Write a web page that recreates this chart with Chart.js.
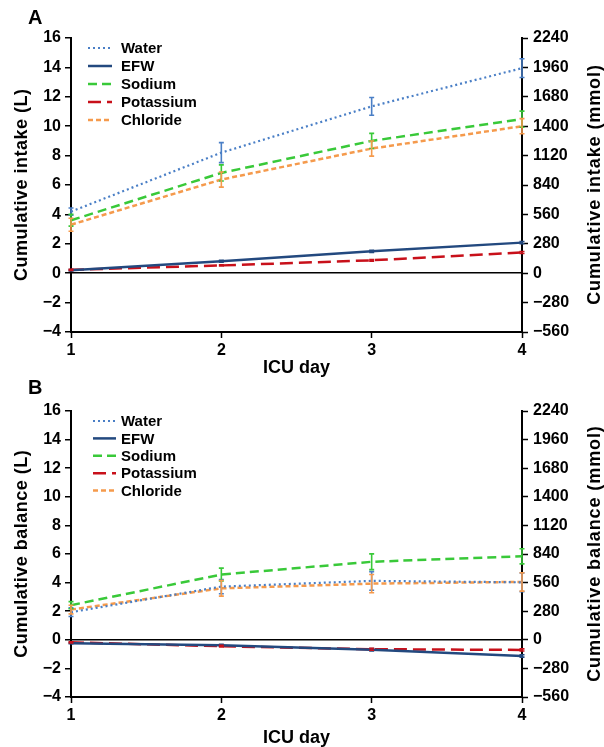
<!DOCTYPE html>
<html>
<head>
<meta charset="utf-8">
<script src="https://cdn.jsdelivr.net/npm/chart.js@4.4.1/dist/chart.umd.min.js"></script>
<style>
  html, body { margin: 0; padding: 0; background: #fff; overflow: hidden; }
  #wrap { position: relative; width: 604px; height: 747px; }
  canvas { position: absolute; left: 0; }
  #chartA { top: 0; }
  #chartB { top: 372px; }
  .tag { position: absolute; left: 28px; font: bold 20px "Liberation Sans", Arial, sans-serif; }
</style>
</head>
<body>
<div id="wrap">
  <canvas id="chartA" width="604" height="380"></canvas>
  <canvas id="chartB" width="604" height="378"></canvas>
  <div class="tag" style="top:6px">A</div>
  <div class="tag" style="top:376px">B</div>
</div>
<script>
const days = ["1", "2", "3", "4"];
const seriesNames = ["Water", "EFW", "Sodium", "Potassium", "Chloride"];

// panel A - cumulative intake (water, EFW in L; electrolytes in mmol)
const intakeWater = [4.19, 8.2, 11.35, 13.95];
const intakeWaterErr = [0.25, 0.68, 0.6, 0.64];
const intakeEfw = [0.2, 0.81, 1.49, 2.08];
const intakeEfwErr = [0.04, 0.06, 0.07, 0.08];
const intakeSodium = [504, 955, 1260, 1467];
const intakeSodiumErr = [56, 77, 72, 77];
const intakePotassium = [32, 74, 123, 197];
const intakePotassiumErr = [5, 6, 8, 10];
const intakeChloride = [462, 892, 1187, 1400];
const intakeChlorideErr = [62, 72, 72, 72];

// panel B - cumulative balance
const balWater = [1.93, 3.72, 4.12, 4.02];
const balWaterErr = [0.3, 0.5, 0.65, 0.65];
const balEfw = [-0.24, -0.38, -0.7, -1.13];
const balEfwErr = [0.04, 0.06, 0.08, 0.08];
const balSodium = [339, 639, 764, 817];
const balSodiumErr = [35, 63, 77, 74];
const balPotassium = [-25, -63, -92, -99];
const balPotassiumErr = [6, 8, 10, 10];
const balChloride = [296, 504, 550, 567];
const balChlorideErr = [42, 76, 90, 90];

const leftTicks = { min: -4, max: 16, step: 2 };
const rightTicks = { min: -560, max: 2240, step: 280 };

const FONT = '"Liberation Sans", Arial, sans-serif';
const minus = v => (v < 0 ? "\u2212" + Math.abs(v) : String(v));

// series styles
const styles = [
  { color: "#4a7fc6", width: 2.2, dash: [2, 3], axis: "y" },
  { color: "#23497f", width: 2.5, dash: [], axis: "y" },
  { color: "#39c939", width: 2.5, dash: [9, 5], axis: "y1" },
  { color: "#c8101a", width: 2.5, dash: [13, 6], axis: "y1" },
  { color: "#f59a4c", width: 2.5, dash: [5, 3], axis: "y1" },
];

// vertical error bars, drawn through the chart scales
const errorBarPlugin = {
  id: "errorBars",
  afterDatasetsDraw(chart) {
    const ctx = chart.ctx;
    const xs = chart.scales.x;
    chart.data.datasets.forEach(ds => {
      if (!ds.errors) return;
      const ys = chart.scales[ds.yAxisID];
      ctx.save();
      ctx.strokeStyle = ds.borderColor;
      ctx.lineWidth = 1.6;
      ctx.setLineDash([]);
      ds.data.forEach((v, i) => {
        const e = ds.errors[i];
        const x = xs.getPixelForValue(i);
        const y0 = ys.getPixelForValue(v - e);
        const y1 = ys.getPixelForValue(v + e);
        ctx.beginPath();
        ctx.moveTo(x, y0); ctx.lineTo(x, y1);
        ctx.moveTo(x - 2.5, y0); ctx.lineTo(x + 2.5, y0);
        ctx.moveTo(x - 2.5, y1); ctx.lineTo(x + 2.5, y1);
        ctx.stroke();
      });
      ctx.restore();
    });
  }
};

function verticalText(ctx, text, x, y, spacing) {
  ctx.save();
  ctx.translate(x, y);
  ctx.rotate(-Math.PI / 2);
  ctx.font = "bold 18px " + FONT;
  ctx.letterSpacing = spacing + "px";
  ctx.textAlign = "center";
  ctx.textBaseline = "middle";
  ctx.fillStyle = "#000";
  ctx.fillText(text, spacing / 2, 0);
  ctx.restore();
}

// legend inside the plot + vertical axis titles
const decorPlugin = {
  id: "decor",
  afterDraw(chart, args, opts) {
    const ctx = chart.ctx;
    const ca = chart.chartArea;
    ctx.save();
    ctx.font = "bold 15px " + FONT;
    ctx.textBaseline = "middle";
    ctx.fillStyle = "#000";
    chart.data.datasets.forEach((ds, i) => {
      const y = opts.legendY + i * opts.legendGap;
      ctx.strokeStyle = ds.borderColor;
      ctx.lineWidth = ds.borderWidth;
      ctx.setLineDash(ds.borderDash);
      ctx.beginPath();
      ctx.moveTo(opts.sampleX0, y);
      ctx.lineTo(opts.sampleX1, y);
      ctx.stroke();
      ctx.fillText(ds.label, opts.textX, y + 1);
    });
    ctx.restore();
    const mid = (ca.top + ca.bottom) / 2;
    verticalText(ctx, opts.leftTitle, 22, mid, 0.5);
    verticalText(ctx, opts.rightTitle, 595, mid, 0.9);
  }
};

function makeChart(id, cfg) {
  const datasets = cfg.values.map((vals, i) => ({
    label: seriesNames[i],
    data: vals,
    errors: cfg.errors[i],
    yAxisID: styles[i].axis,
    borderColor: styles[i].color,
    backgroundColor: styles[i].color,
    borderWidth: styles[i].width,
    borderDash: styles[i].dash,
    pointRadius: 0,
    tension: 0,
    fill: false,
  }));
  const tickFont = { family: FONT, size: 16, weight: "bold" };
  return new Chart(document.getElementById(id), {
    type: "line",
    data: { labels: days, datasets },
    options: {
      responsive: false,
      animation: false,
      layout: { padding: { top: cfg.padTop, bottom: 1.2, left: 0, right: 0 } },
      plugins: {
        legend: { display: false },
        tooltip: { enabled: false },
        decor: cfg.decor,
      },
      scales: {
        x: {
          offset: false,
          afterFit: s => { s.height = cfg.xHeight; },
          grid: { drawOnChartArea: false, tickLength: 6, tickColor: "#000", tickWidth: 1.5 },
          border: { color: "#000", width: 2 },
          ticks: { color: "#000", font: tickFont, padding: 3, maxRotation: 0 },
          title: { display: true, text: "ICU day", color: "#000",
                   font: { family: FONT, size: 18, weight: "bold" }, padding: { top: 0, bottom: 0 } },
        },
        y: {
          position: "left",
          min: leftTicks.min, max: leftTicks.max,
          afterFit: s => { s.width = 71; },
          grid: {
            color: c => (c.tick && c.tick.value === 0 ? "#000" : "rgba(0,0,0,0)"),
            lineWidth: 1.5, tickLength: 6, tickColor: "#000", tickWidth: 1.5,
          },
          border: { color: "#000", width: 2 },
          ticks: { stepSize: leftTicks.step, color: "#000", font: tickFont, padding: 4, callback: minus },
        },
        y1: {
          position: "right",
          min: rightTicks.min, max: rightTicks.max,
          afterFit: s => { s.width = 82; },
          grid: { drawOnChartArea: false, tickLength: 6, tickColor: "#000", tickWidth: 1.5 },
          border: { color: "#000", width: 2 },
          ticks: { stepSize: rightTicks.step, color: "#000", font: tickFont, padding: 5, callback: minus },
        },
      },
    },
    plugins: [errorBarPlugin, decorPlugin],
  });
}

makeChart("chartA", {
  values: [intakeWater, intakeEfw, intakeSodium, intakePotassium, intakeChloride],
  errors: [intakeWaterErr, intakeEfwErr, intakeSodiumErr, intakePotassiumErr, intakeChlorideErr],
  padTop: 38,
  xHeight: 46.8,
  decor: { legendY: 48, legendGap: 18, sampleX0: 88, sampleX1: 112, textX: 121,
           leftTitle: "Cumulative intake (L)", rightTitle: "Cumulative intake (mmol)" },
});

makeChart("chartB", {
  values: [balWater, balEfw, balSodium, balPotassium, balChloride],
  errors: [balWaterErr, balEfwErr, balSodiumErr, balPotassiumErr, balChlorideErr],
  padTop: 39,
  xHeight: 51.8,
  decor: { legendY: 49, legendGap: 17.4, sampleX0: 93, sampleX1: 116, textX: 121,
           leftTitle: "Cumulative balance (L)", rightTitle: "Cumulative balance (mmol)" },
});
</script>
</body>
</html>
